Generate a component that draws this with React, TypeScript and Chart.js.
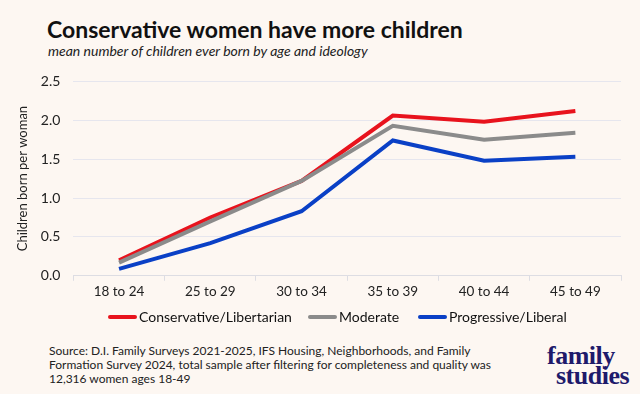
import React, { useEffect, useRef } from "react";
import { Chart, registerables } from "chart.js";

Chart.register(...registerables);

const categories = ["18 to 24", "25 to 29", "30 to 34", "35 to 39", "40 to 44", "45 to 49"];
const conservative = [0.2, 0.75, 1.22, 2.06, 1.98, 2.12];
const moderate = [0.17, 0.7, 1.22, 1.93, 1.75, 1.84];
const progressive = [0.09, 0.42, 0.83, 1.74, 1.48, 1.53];
const yTicks = [0, 0.5, 1.0, 1.5, 2.0, 2.5];

const seriesNames = ["Conservative/Libertarian", "Moderate", "Progressive/Liberal"];
const seriesColors = ["#E8131D", "#8B8B8B", "#0A40C6"];

const BG = "#FDF7F2";
const FONT = "Lato, 'Noto Sans', sans-serif";

export default function App() {
  const ref = useRef<HTMLCanvasElement | null>(null);

  useEffect(() => {
    if (!ref.current) return;
    const chart = new Chart(ref.current, {
      type: "line",
      data: {
        labels: categories,
        datasets: [
          { label: seriesNames[0], data: conservative, borderColor: seriesColors[0], backgroundColor: seriesColors[0], order: 3 },
          { label: seriesNames[1], data: moderate, borderColor: seriesColors[1], backgroundColor: seriesColors[1], order: 1 },
          { label: seriesNames[2], data: progressive, borderColor: seriesColors[2], backgroundColor: seriesColors[2], order: 2 },
        ].map((d) => ({ ...d, borderWidth: 4, pointRadius: 0, tension: 0, fill: false })),
      },
      options: {
        animation: false,
        responsive: false,
        maintainAspectRatio: false,
        layout: { padding: { left: 11, right: 19, top: 20, bottom: 7 } },
        plugins: { legend: { display: false }, tooltip: { enabled: false }, title: { display: false } },
        scales: {
          x: {
            offset: true,
            grid: { display: true, drawOnChartArea: false, drawTicks: true, tickLength: 5, offset: true, color: "#DDDDE3" },
            border: { display: true, color: "#DDDDE3", width: 1 },
            ticks: { color: "#222", font: { family: FONT, size: 13.5 }, padding: 3 },
          },
          y: {
            min: 0,
            max: 2.5,
            afterBuildTicks: (scale: any) => {
              scale.ticks = yTicks.map((v) => ({ value: v }));
            },
            afterFit: (scale: any) => {
              scale.width = 62.4;
            },
            grid: { color: "#E6E6EE", drawTicks: false, lineWidth: 1 },
            border: { display: false },
            ticks: {
              color: "#222",
              font: { family: FONT, size: 14 },
              padding: 13,
              callback: (v: any) => Number(v).toFixed(1),
            },
            title: {
              display: true,
              text: "Children born per woman",
              color: "#222",
              font: { family: FONT, size: 13 },
              padding: { top: 4, bottom: 4 },
            },
          },
        },
      },
    });
    return () => chart.destroy();
  }, []);

  const legendLeft = [108, 308, 418];

  return (
    <div
      style={{
        position: "fixed",
        left: 0,
        top: 0,
        width: 640,
        height: 394,
        background: BG,
        fontFamily: FONT,
        overflow: "hidden",
      }}
    >
      <div
        style={{
          position: "absolute",
          left: 47,
          top: 14,
          fontSize: 23,
          fontWeight: 700,
          color: "#111",
          whiteSpace: "nowrap",
          lineHeight: "30px",
        }}
      >
        Conservative women have more children
      </div>
      <div
        style={{
          position: "absolute",
          left: 48,
          top: 42,
          fontSize: 14,
          fontStyle: "italic",
          color: "#222",
          whiteSpace: "nowrap",
          lineHeight: "18px",
        }}
      >
        mean number of children ever born by age and ideology
      </div>
      <canvas
        ref={ref}
        width={640}
        height={250}
        style={{ position: "absolute", left: 0, top: 60, width: 640, height: 250 }}
      />
      {seriesNames.map((name, i) => (
        <div
          key={name}
          style={{
            position: "absolute",
            left: legendLeft[i],
            top: 306,
            height: 21,
            display: "flex",
            alignItems: "center",
            whiteSpace: "nowrap",
          }}
        >
          <span style={{ display: "inline-block", width: 29, height: 4, background: seriesColors[i], borderRadius: 2, marginRight: 2 }} />
          <span style={{ fontSize: 14, color: "#111", lineHeight: "21px" }}>{name}</span>
        </div>
      ))}
      <div
        style={{
          position: "absolute",
          left: 49,
          top: 344,
          fontSize: 12,
          color: "#222",
          lineHeight: "14px",
          whiteSpace: "nowrap",
        }}
      >
        Source: D.I. Family Surveys 2021-2025, IFS Housing, Neighborhoods, and Family
        <br />
        Formation Survey 2024, total sample after filtering for completeness and quality was
        <br />
        12,316 women ages 18-49
      </div>
      <div
        style={{
          position: "absolute",
          left: 547,
          top: 343,
          fontFamily: "'Liberation Serif', 'DejaVu Serif', serif",
          fontWeight: 700,
          fontSize: 26,
          color: "#1E1A6B",
          lineHeight: "26px",
          letterSpacing: -0.5,
        }}
      >
        family
      </div>
      <div
        style={{
          position: "absolute",
          left: 556,
          top: 363,
          fontFamily: "'Liberation Serif', 'DejaVu Serif', serif",
          fontWeight: 700,
          fontSize: 26,
          color: "#1E1A6B",
          lineHeight: "26px",
          letterSpacing: -0.5,
        }}
      >
        studies
      </div>
    </div>
  );
}
